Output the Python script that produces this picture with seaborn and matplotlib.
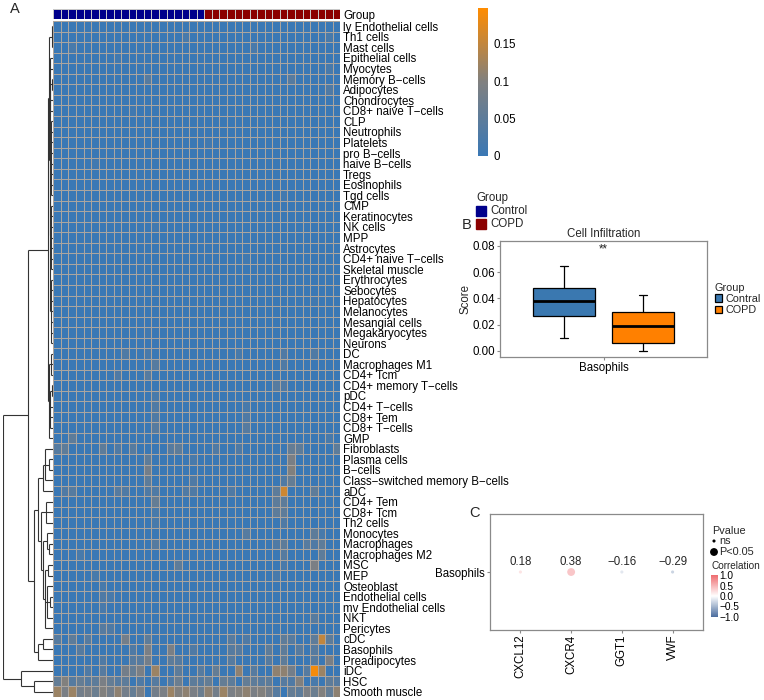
import numpy as np
import pandas as pd
import matplotlib
matplotlib.use("Agg")
import matplotlib.pyplot as plt
import seaborn as sns
from matplotlib.colors import LinearSegmentedColormap, ListedColormap, Normalize
from matplotlib.colorbar import ColorbarBase
from matplotlib.patches import Rectangle

# ---- panel A: heatmap data (scores in units of 0.01) ----
cell_types = [
    "ly Endothelial cells", "Th1 cells", "Mast cells", "Epithelial cells", "Myocytes",
    "Memory B\u2212cells", "Adipocytes", "Chondrocytes", "CD8+ naive T\u2212cells", "CLP",
    "Neutrophils", "Platelets", "pro B\u2212cells", "naive B\u2212cells", "Tregs",
    "Eosinophils", "Tgd cells", "CMP", "Keratinocytes", "NK cells",
    "MPP", "Astrocytes", "CD4+ naive T\u2212cells", "Skeletal muscle", "Erythrocytes",
    "Sebocytes", "Hepatocytes", "Melanocytes", "Mesangial cells", "Megakaryocytes",
    "Neurons", "DC", "Macrophages M1", "CD4+ Tcm", "CD4+ memory T\u2212cells",
    "pDC", "CD4+ T\u2212cells", "CD8+ Tem", "CD8+ T\u2212cells", "GMP",
    "Fibroblasts", "Plasma cells", "B\u2212cells", "Class\u2212switched memory B\u2212cells", "aDC",
    "CD4+ Tem", "CD8+ Tcm", "Th2 cells", "Monocytes", "Macrophages",
    "Macrophages M2", "MSC", "MEP", "Osteoblast", "Endothelial cells",
    "mv Endothelial cells", "NKT", "Pericytes", "cDC", "Basophils",
    "Preadipocytes", "iDC", "HSC", "Smooth muscle",
]

score_rows = [
    [0,0,0,0,0,0,0,0,0,0, 0,0,0,0,0,0,0,0,0,0, 0,0,0,0,0,0,0,0,0,0, 0,0,0,0,0,0,0,0],
    [0,0,0,0,0,0,0,0,0,0, 0,0,0,0,0,0,0,2,0,0, 0,0,0,0,0,0,0,0,0,0, 0,0,0,0,0,0,2,0],
    [0,0,2,0,0,0,0,0,0,0, 0,0,0,0,0,0,0,0,0,0, 0,0,0,0,0,0,2,0,0,0, 0,0,0,0,0,0,0,0],
    [0,0,0,0,0,0,0,0,1,0, 0,0,0,0,0,0,0,0,0,0, 0,0,0,0,0,0,0,0,0,0, 0,0,0,0,0,0,0,0],
    [0,0,0,0,0,0,0,0,0,0, 0,0,0,0,0,0,0,0,0,0, 0,0,0,0,0,0,0,0,0,0, 0,0,0,0,0,0,2,0],
    [0,0,0,0,0,0,0,0,0,0, 0,0,4,0,0,0,0,0,0,0, 0,0,0,0,0,0,0,0,0,0, 0,4,0,0,0,0,0,0],
    [0,0,0,0,0,0,0,0,0,0, 0,0,0,0,0,0,0,0,0,0, 0,0,0,0,0,0,0,0,0,0, 0,0,0,0,0,0,3,0],
    [0,0,0,0,0,0,0,0,0,0, 0,0,0,0,0,0,0,0,0,0, 0,0,0,0,0,0,0,0,0,0, 0,0,0,0,0,0,0,0],
    [0,0,0,0,0,0,0,0,0,0, 1,0,0,0,0,0,0,0,0,0, 0,0,0,0,0,0,0,0,0,0, 0,0,0,0,0,0,0,0],
    [0,0,0,0,0,0,0,0,0,0, 0,0,0,0,0,0,0,0,0,0, 0,0,0,0,0,0,0,0,0,0, 0,0,0,0,0,0,0,0],
    [0,0,0,0,0,0,0,0,0,0, 0,0,0,0,0,0,0,0,0,0, 0,0,0,0,0,0,0,0,0,0, 0,0,0,0,0,0,0,0],
    [0,0,0,0,0,0,0,0,0,0, 0,0,0,0,0,0,0,0,0,0, 1,0,0,0,0,0,0,0,0,0, 0,0,0,0,0,0,0,0],
    [0,0,0,0,0,0,0,0,0,0, 0,0,0,0,0,0,0,0,0,0, 0,0,0,0,0,0,0,0,0,0, 0,0,0,0,0,0,0,0],
    [0,0,0,0,0,1,0,0,0,0, 0,0,0,0,0,0,0,0,0,0, 0,0,0,0,0,0,0,0,0,0, 0,0,0,0,0,0,0,0],
    [0,0,0,0,0,0,0,0,0,0, 0,0,0,0,0,0,0,0,0,0, 0,0,0,0,0,0,0,0,0,0, 0,0,0,0,0,0,0,0],
    [0,0,0,0,0,0,0,0,0,0, 0,0,0,0,0,0,0,0,0,0, 0,0,0,0,0,0,0,0,0,0, 0,0,0,0,0,0,0,0],
    [0,0,0,0,0,0,0,0,0,0, 0,0,0,0,0,0,0,0,0,0, 0,0,0,0,0,0,0,0,0,0, 1,0,0,0,0,0,0,0],
    [0,0,0,0,0,0,0,0,0,0, 0,0,0,0,0,0,0,0,0,0, 0,0,0,0,0,0,0,0,0,0, 0,0,0,0,0,0,0,0],
    [0,0,0,0,0,0,0,0,0,0, 0,0,0,0,0,0,0,0,0,0, 0,0,0,0,0,0,0,0,0,0, 0,0,0,0,0,0,0,0],
    [0,0,0,0,0,0,0,0,0,0, 0,0,0,1,0,0,0,0,0,0, 0,0,0,0,0,0,0,0,0,0, 0,0,0,0,0,0,0,0],
    [0,0,0,0,0,0,0,0,0,0, 0,0,0,0,0,0,0,0,0,0, 0,0,0,0,0,0,0,0,0,0, 0,0,0,0,0,0,0,0],
    [0,0,0,0,0,0,0,0,0,0, 0,0,0,0,0,0,0,0,0,0, 0,0,0,0,0,0,0,0,0,0, 0,0,0,0,0,0,0,0],
    [0,0,0,0,0,0,0,0,0,0, 0,0,0,0,0,0,0,0,0,0, 0,0,0,0,0,1,0,0,0,0, 0,0,0,0,0,0,0,0],
    [0,0,0,0,0,0,0,0,0,0, 0,0,0,0,0,0,0,0,0,0, 0,0,0,0,0,0,0,0,0,0, 0,0,0,0,0,0,0,0],
    [0,0,0,0,0,0,0,0,0,0, 0,0,0,0,0,0,0,0,0,0, 0,0,0,0,0,0,0,0,0,0, 0,0,0,0,0,0,0,0],
    [0,0,0,0,0,0,0,0,0,0, 0,0,0,0,0,0,0,0,0,0, 0,0,0,0,0,0,0,0,0,0, 0,0,0,0,0,0,0,0],
    [0,0,0,0,0,0,0,0,0,0, 0,0,0,0,0,0,0,0,0,0, 0,0,0,0,0,0,0,0,0,0, 0,0,0,0,1,0,0,0],
    [0,0,0,0,0,0,0,0,0,0, 0,0,0,0,0,0,0,0,0,0, 0,0,0,0,0,0,0,0,0,0, 0,0,0,0,0,0,0,0],
    [0,0,0,0,0,0,0,0,0,0, 0,0,0,0,0,0,0,0,0,0, 0,0,0,0,0,0,0,0,0,0, 0,0,0,0,0,0,0,0],
    [0,0,0,0,0,0,0,0,0,0, 0,0,1,0,0,0,0,0,0,0, 0,0,0,0,0,0,0,0,0,0, 0,0,0,0,0,0,0,0],
    [0,0,0,0,0,0,0,0,0,0, 0,0,0,0,0,0,0,0,0,0, 0,0,0,0,0,0,0,0,0,0, 0,0,0,0,0,0,0,0],
    [0,0,0,0,0,0,0,0,0,3, 0,0,2,0,0,0,0,0,0,0, 0,0,0,0,2,0,0,0,0,0, 3,0,0,0,3,0,0,0],
    [0,0,0,0,0,0,0,0,0,0, 0,0,0,4,0,0,0,0,0,0, 0,0,0,0,0,0,0,0,0,0, 3,0,0,0,0,0,0,0],
    [0,0,0,0,0,0,0,0,3,0, 0,0,4,0,0,0,0,0,0,0, 0,0,0,0,0,0,0,0,0,0, 0,0,0,0,0,0,0,0],
    [0,0,0,0,0,0,0,0,0,0, 0,0,0,0,0,0,0,0,0,0, 0,0,0,0,0,0,0,0,0,4, 3,0,0,0,0,0,0,0],
    [0,0,0,0,0,0,0,0,0,0, 0,0,0,2,0,0,0,0,0,0, 0,0,0,0,0,0,0,0,0,0, 0,0,0,0,0,0,0,0],
    [0,0,0,0,0,0,0,0,0,0, 0,0,0,3,0,0,0,0,0,0, 0,0,0,0,0,2,0,0,0,0, 0,0,0,0,0,0,0,0],
    [0,0,0,0,0,0,0,0,0,0, 0,0,0,3,0,0,0,0,0,0, 0,0,0,0,0,3,0,0,0,0, 0,0,0,0,0,0,0,0],
    [0,0,0,0,0,0,0,0,0,0, 0,0,0,4,0,0,0,0,0,0, 0,0,0,0,0,4,0,0,0,0, 0,0,0,0,0,0,0,0],
    [0,0,5,0,0,0,0,0,0,0, 0,0,0,0,0,0,0,0,0,0, 0,0,0,0,0,0,0,0,0,0, 0,0,0,0,0,0,2,0],
    [4,5,0,0,0,0,5,0,3,0, 4,0,0,0,0,4,5,0,0,0, 0,3,0,0,3,0,0,0,0,0, 0,6,5,0,0,0,0,5],
    [0,0,0,0,0,0,0,0,0,0, 0,0,5,0,0,0,0,0,2,0, 0,0,0,0,0,0,0,0,0,0, 0,9,0,0,0,0,0,0],
    [0,0,0,0,0,0,0,0,0,0, 0,0,8,0,0,0,0,0,0,0, 0,0,0,0,0,0,0,0,0,0, 0,10,0,0,0,0,0,0],
    [0,0,0,0,0,0,0,0,0,0, 0,0,5,0,0,0,0,0,3,0, 0,0,0,0,0,0,0,0,0,0, 3,6,0,0,0,0,0,0],
    [0,3,4,0,0,0,0,0,4,3, 0,0,3,3,0,0,0,3,3,0, 0,0,0,3,0,0,0,0,0,5, 16,0,0,0,5,0,0,0],
    [0,0,0,0,0,0,0,0,0,0, 0,0,0,6,0,0,0,0,0,0, 0,0,0,0,0,0,0,0,0,5, 5,0,0,0,0,0,0,0],
    [0,0,0,0,0,0,0,0,0,0, 0,0,0,2,0,0,0,0,0,0, 0,0,0,0,0,0,0,0,0,5, 5,0,0,0,0,0,0,0],
    [0,0,0,0,0,0,0,0,0,0, 0,0,0,2,0,0,0,0,0,0, 0,0,0,0,0,0,0,0,0,0, 3,0,0,0,0,0,0,0],
    [0,0,0,0,0,0,0,0,0,0, 0,0,0,0,0,0,0,0,0,0, 0,0,0,0,0,4,0,0,0,0, 0,0,0,0,5,2,0,0],
    [0,0,0,0,0,0,0,0,0,0, 0,0,0,4,0,0,0,0,0,0, 0,0,0,0,0,0,0,0,0,3, 5,0,0,4,3,5,0,0],
    [0,0,0,2,0,0,0,0,0,0, 0,0,0,0,0,0,0,0,0,0, 0,0,0,0,0,0,0,0,0,0, 4,0,0,0,0,5,0,0],
    [0,0,0,0,0,0,0,0,0,0, 0,0,0,0,0,0,5,0,0,0, 0,0,0,0,0,0,0,0,0,0, 2,0,0,0,9,0,0,0],
    [0,0,0,0,0,2,0,0,0,0, 0,0,0,0,0,0,0,0,0,0, 0,0,0,0,0,0,0,0,0,2, 0,0,0,0,0,0,0,0],
    [0,0,0,0,0,0,2,0,0,0, 0,0,0,0,0,0,0,0,0,0, 0,0,0,0,0,0,0,0,0,0, 0,0,0,0,0,0,0,0],
    [0,0,0,0,0,0,3,2,0,0, 0,0,0,0,0,0,0,0,0,0, 0,0,0,0,0,0,0,0,0,0, 0,0,0,0,0,0,0,0],
    [0,0,0,0,0,0,2,0,0,0, 0,0,0,0,0,0,0,0,0,0, 0,0,0,0,0,0,0,0,0,0, 0,0,0,0,0,0,0,0],
    [0,0,0,0,0,0,0,0,0,0, 0,0,0,0,0,0,0,0,0,0, 0,0,0,0,0,0,0,0,0,0, 0,0,0,0,4,0,0,0],
    [0,0,0,0,0,0,4,3,0,0, 0,0,0,0,0,0,0,0,0,0, 0,0,0,0,0,0,0,0,0,0, 0,0,0,0,0,0,0,0],
    [4,0,5,0,4,0,0,0,0,8, 0,0,5,0,0,0,0,0,0,0, 0,0,0,4,0,3,0,0,0,0, 5,4,0,0,5,15,5,0],
    [0,0,0,4,0,0,0,0,0,0, 3,0,9,0,0,9,0,0,3,0, 0,0,0,4,4,0,0,0,5,0, 5,0,4,0,4,0,0,0],
    [0,0,0,0,0,0,3,0,0,0, 4,4,8,0,0,5,4,0,0,0, 0,0,0,4,0,0,0,0,4,0, 5,0,0,0,4,0,9,0],
    [0,0,0,0,3,0,4,0,0,8, 6,9,0,12,0,0,5,0,0,4, 0,6,0,0,11,0,4,0,0,11, 11,8,0,4,19,12,0,0],
    [6,10,4,6,4,5,9,6,4,5, 0,3,0,4,0,3,7,0,5,4, 6,0,6,5,0,6,5,4,5,0, 4,3,10,0,2,0,5,4],
    [12,9,12,8,9,7,10,8,11,8, 6,9,0,8,9,12,10,11,9,7, 11,8,12,9,10,11,9,10,8,4, 0,6,5,9,7,10,6,11],
]

n_control = 20
n_copd = 18

# row dendrogram: (height, [children]), leaves are row numbers
top_a = (0.02, [0, 1, 2])
top_b = (0.045, [3, 4, (0.02, [5, 6]), 7, 8])
top_c = (0.05, [(0.03, [9, 10, 11, 12, 13, 14, 15, 16]),
                (0.035, [17, 18, 19, 20, 21, 22, 23]),
                (0.03, [24, 25, 26, 27, 28, 29, 30])])
clu_a1 = (0.09, [(0.07, [top_a, (0.06, [top_b, top_c])]),
                 (0.075, [(0.03, [31, 32, 33]),
                          (0.05, [(0.02, [34, 35]), 36, 37, 38]), 39])])
clu_f = (0.2, [(0.15, [40, (0.08, [41, 42]), 43]), 44])
clu_g = (0.24, [(0.14, [45, 46, 47]),
                (0.2, [(0.12, [48, (0.07, [49, 50])]),
                       (0.16, [(0.09, [51, 52]), (0.11, [53, (0.06, [54, 55]), 56]), 57])])])
clu_a2 = (0.38, [(0.3, [clu_f, clu_g]), (0.3, [(0.2, [58, 59]), 60])])
tree = (1.0, [(0.5, [clu_a1, clu_a2]), (0.64, [61, (0.38, [62, 63])])])

# ---- panel B: box summaries (min, q1, median, q3, max) ----
box_cell = "Basophils"
contral_five = [0.0097, 0.0267, 0.0383, 0.0478, 0.0648]
copd_five = [0.0000, 0.0063, 0.0188, 0.0300, 0.0427]

# ---- panel C: correlation ----
genes = ["CXCL12", "CXCR4", "GGT1", "VWF"]
corr_vals = [0.18, 0.38, -0.16, -0.29]
p_labels = ["ns", "P<0.05", "ns", "ns"]

W, H = 764, 700


def px(left, top, width, height):
    return [left / W, 1 - (top + height) / H, width / W, height / H]


def draw_tree(ax, node):
    if isinstance(node, int):
        return node + 0.5, 0.0
    h, kids = node
    pts = [draw_tree(ax, k) for k in kids]
    ys = [p[0] for p in pts]
    for y, hk in pts:
        ax.plot([hk, h], [y, y], color="#333333", lw=0.8, solid_capstyle="butt")
    ax.plot([h, h], [min(ys), max(ys)], color="#333333", lw=0.8, solid_capstyle="butt")
    return (ys[0] + ys[-1]) / 2, h


sns.set_style("white")
plt.rcParams["font.family"] = ["Liberation Sans", "DejaVu Sans"]
FS = 8.3

fig = plt.figure(figsize=(W / 100, H / 100), dpi=100)

# ---------------- panel A ----------------
hm_cmap = LinearSegmentedColormap.from_list("hm", ["#3A78B5", "#808080", "#FF8C00"])
score = pd.DataFrame(np.array(score_rows) / 100, index=cell_types)

ax_hm = fig.add_axes(px(53.3, 21, 287, 676))
cax = fig.add_axes(px(478, 8, 10, 148))
sns.heatmap(score, ax=ax_hm, cmap=hm_cmap, vmin=0, vmax=0.198, linewidths=0.5,
            linecolor="#ABA59F", cbar_ax=cax, xticklabels=False, yticklabels=True)
ax_hm.yaxis.tick_right()
ax_hm.tick_params(axis="y", length=0, pad=2, labelsize=FS, labelrotation=0, labelcolor="black")
ax_hm.set_ylabel("")
cb = ax_hm.collections[0].colorbar
cb.outline.set_visible(False)
cb.set_ticks([0, 0.05, 0.1, 0.15])
cb.set_ticklabels(["0", "0.05", "0.1", "0.15"])
cax.tick_params(length=0, labelsize=FS, pad=4, labelcolor="black")

groups = ["Control"] * n_control + ["COPD"] * n_copd
group_codes = pd.DataFrame([[0 if g == "Control" else 1 for g in groups]], index=["Group"])
ax_g = fig.add_axes(px(53.3, 9.3, 287, 10))
sns.heatmap(group_codes, ax=ax_g, cmap=ListedColormap(["#00008B", "#8B0000"]), vmin=0, vmax=1,
            cbar=False, linewidths=0.5, linecolor="#C8C8C8", xticklabels=False, yticklabels=True)
ax_g.yaxis.tick_right()
ax_g.tick_params(axis="y", length=0, pad=2, labelsize=FS, labelrotation=0, labelcolor="black")

ax_d = fig.add_axes(px(2.5, 21, 50, 676))
draw_tree(ax_d, tree)
ax_d.set_xlim(1.0, 0.0)
ax_d.set_ylim(64, 0)
ax_d.axis("off")

fig.text(476 / W, 1 - 198 / H, "Group", fontsize=FS, va="center")
for i, (lab, col) in enumerate([("Control", "#00008B"), ("COPD", "#8B0000")]):
    top = 206 + 13 * i
    fig.add_artist(Rectangle((476 / W, 1 - (top + 10) / H), 10 / W, 10 / H,
                             transform=fig.transFigure, color=col))
    fig.text(490 / W, 1 - (top + 5) / H, lab, fontsize=FS, va="center")

fig.text(10 / W, 1 - 9 / H, "A", fontsize=10.5, va="center")

# ---------------- panel B ----------------
df_b = pd.DataFrame({
    "cell": [box_cell] * 10,
    "score": contral_five + copd_five,
    "group": ["Contral"] * 5 + ["COPD"] * 5,
})
ax_b = fig.add_axes(px(500, 241, 207, 116))
sns.boxplot(data=df_b, x="cell", y="score", hue="group", palette=["#3A78B0", "#FF8000"],
            saturation=1, linecolor="black", linewidth=0.9, width=0.76, gap=0.22,
            capwidths=0.04, medianprops={"linewidth": 2}, ax=ax_b)
ax_b.set_ylim(-0.0046, 0.0838)
ax_b.set_yticks([0, 0.02, 0.04, 0.06, 0.08])
ax_b.set_yticklabels(["0.00", "0.02", "0.04", "0.06", "0.08"])
ax_b.set_xlabel("")
ax_b.set_ylabel("Score", fontsize=FS, labelpad=1)
ax_b.set_title("Cell Infiltration", fontsize=FS, pad=3)
ax_b.text(0, 0.0775, "**", ha="center", va="center", fontsize=FS)
for s in ax_b.spines.values():
    s.set_color("#8A8A8A")
    s.set_linewidth(0.9)
ax_b.tick_params(length=2.5, color="#8A8A8A", labelsize=FS, pad=1, left=True, bottom=True,
                 labelcolor="black")
sns.move_legend(ax_b, "center left", bbox_to_anchor=(1.0, 0.5), frameon=False, title="Group",
                fontsize=7.8, title_fontsize=7.8, handlelength=0.7, handleheight=0.7,
                handletextpad=0.3, labelspacing=0.1, borderaxespad=0.3, alignment="left")
fig.text(462 / W, 1 - 225 / H, "B", fontsize=10.5, va="center")

# ---------------- panel C ----------------
corr_cmap = LinearSegmentedColormap.from_list("corr", ["#4A6C9E", "#FFFFFF", "#EE6A6E"])
df_c = pd.DataFrame({"gene": genes, "cell": [box_cell] * len(genes),
                     "corr": corr_vals, "sig": p_labels})
ax_c = fig.add_axes(px(490, 514, 213, 116))
sns.scatterplot(data=df_c, x="gene", y="cell", hue="corr", hue_norm=(-1, 1), palette=corr_cmap,
                size="sig", sizes={"ns": 5, "P<0.05": 32}, size_order=["ns", "P<0.05"],
                legend=False, linewidth=0, ax=ax_c)
for i, v in enumerate(corr_vals):
    ax_c.annotate(f"{v:.2f}".replace("-", "\u2212"), (i, 0), xytext=(0, 7.5),
                  textcoords="offset points", ha="center", va="center", fontsize=FS)
ax_c.set_xlim(-0.6, 3.6)
ax_c.set_ylim(-0.6, 0.6)
ax_c.set_xlabel("")
ax_c.set_ylabel("")
ax_c.tick_params(axis="x", labelrotation=90)
ax_c.tick_params(length=2.5, color="#8A8A8A", labelsize=FS, pad=1, left=True, bottom=True,
                 labelcolor="black")
for s in ax_c.spines.values():
    s.set_color("#8A8A8A")
    s.set_linewidth(0.9)
fig.text(469 / W, 1 - 513 / H, "C", fontsize=10.5, va="center")

fig.text(712 / W, 1 - 531 / H, "Pvalue", fontsize=7.8, va="center")
lax = fig.add_axes(px(708, 536, 56, 22))
lax.set_xlim(0, 56)
lax.set_ylim(22, 0)
lax.axis("off")
lax.scatter([6, 6], [5, 16], s=[5, 32], color="black", linewidths=0)
lax.text(11, 5, "ns", fontsize=7.8, va="center")
lax.text(11, 16, "P<0.05", fontsize=7.8, va="center")

fig.text(711 / W, 1 - 566 / H, "Correlation", fontsize=7.2, va="center")
cax2 = fig.add_axes(px(711, 575, 7, 42))
cb2 = ColorbarBase(cax2, cmap=corr_cmap, norm=Normalize(-1, 1), ticks=[-1, -0.5, 0, 0.5, 1])
cb2.outline.set_visible(False)
cb2.set_ticklabels(["\u22121.0", "\u22120.5", "0.0", "0.5", "1.0"])
cax2.tick_params(length=0, labelsize=7.3, pad=1, labelcolor="black")

fig.savefig("out.png", dpi=100)
